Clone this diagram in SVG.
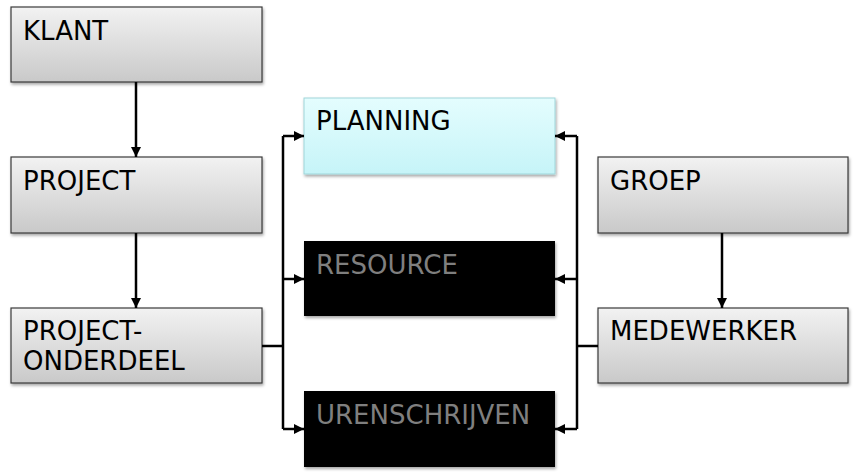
<svg xmlns="http://www.w3.org/2000/svg" width="855" height="476" viewBox="0 0 855 476">
<defs>
<linearGradient id="g" x1="0" y1="0" x2="0" y2="1"><stop offset="0" stop-color="#f2f2f2"/><stop offset="1" stop-color="#c9c9c9"/></linearGradient>
<linearGradient id="c" x1="0" y1="0" x2="0" y2="1"><stop offset="0" stop-color="#e4fdfe"/><stop offset="1" stop-color="#c6f4f8"/></linearGradient>
<marker id="a" viewBox="0 0 10 10" refX="10" refY="5" markerWidth="4" markerHeight="4" orient="auto"><path d="M0,0L10,5L0,10z" fill="#000"/></marker>
<filter id="s" x="-5%" y="-5%" width="115%" height="120%"><feDropShadow dx="1" dy="2" stdDeviation="1.5" flood-opacity="0.35"/></filter>
</defs>
<style>
.b{stroke:#3a3a3a;stroke-width:1.2;filter:url(#s)}
.t{font-family:"DejaVu Sans",Verdana,sans-serif;font-size:26px;fill:#000}
.w{fill:#7f7f7f}
.l{stroke:#000;stroke-width:2.5;fill:none}
</style>
<rect width="855" height="476" fill="#fff"/>
<g id="klant"><rect class="b" x="11" y="7" width="251" height="75" fill="url(#g)"/><text class="t" x="23" y="40">KLANT</text></g>
<g id="project"><rect class="b" x="11" y="157" width="251" height="76" fill="url(#g)"/><text class="t" x="23" y="190">PROJECT</text></g>
<g id="projectonderdeel"><rect class="b" x="11" y="308" width="251" height="75" fill="url(#g)"/><text class="t" x="23" y="340">PROJECT-</text><text class="t" x="23" y="370">ONDERDEEL</text></g>
<g id="planning"><rect x="304" y="98" width="251" height="76" fill="url(#c)" stroke="#9fd6da" stroke-width="1" filter="url(#s)"/><text class="t" x="316" y="130">PLANNING</text></g>
<g id="resource"><rect x="304" y="241" width="251" height="75" fill="#000" filter="url(#s)"/><text class="t w" x="316" y="274">RESOURCE</text></g>
<g id="urenschrijven"><rect x="304" y="391" width="251" height="76" fill="#000" filter="url(#s)"/><text class="t w" x="316" y="424">URENSCHRIJVEN</text></g>
<g id="groep"><rect class="b" x="598" y="157" width="250" height="76" fill="url(#g)"/><text class="t" x="610" y="190">GROEP</text></g>
<g id="medewerker"><rect class="b" x="598" y="308" width="250" height="75" fill="url(#g)"/><text class="t" x="610" y="340">MEDEWERKER</text></g>
<g id="connectors">
<path class="l" d="M136,82V157" marker-end="url(#a)"/>
<path class="l" d="M136,233V308" marker-end="url(#a)"/>
<path class="l" d="M722,233V308" marker-end="url(#a)"/>
<path class="l" d="M262,346H283"/>
<path class="l" d="M283,136V429"/>
<path class="l" d="M283,136H304" marker-end="url(#a)"/>
<path class="l" d="M283,279H304" marker-end="url(#a)"/>
<path class="l" d="M283,429H304" marker-end="url(#a)"/>
<path class="l" d="M598,346H577"/>
<path class="l" d="M577,136V429"/>
<path class="l" d="M577,136H555" marker-end="url(#a)"/>
<path class="l" d="M577,279H555" marker-end="url(#a)"/>
<path class="l" d="M577,429H555" marker-end="url(#a)"/>
</g>
</svg>
